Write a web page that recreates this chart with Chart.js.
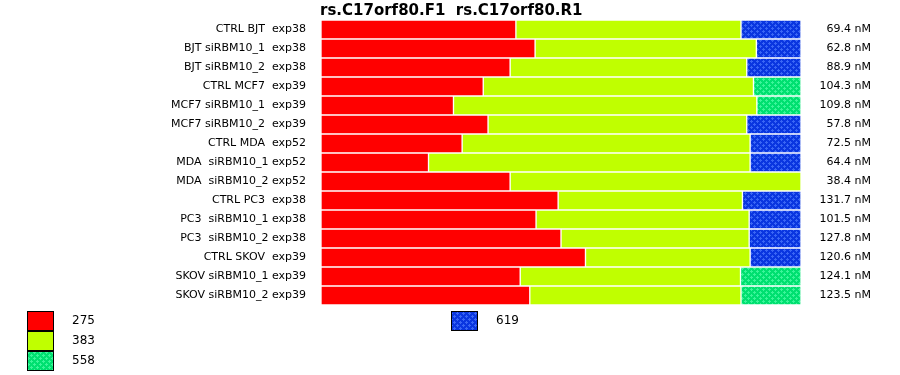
<!DOCTYPE html>
<html>
<head>
<meta charset="utf-8">
<script src="https://cdn.jsdelivr.net/npm/chart.js@4/dist/chart.umd.min.js"></script>
<style>
  body { margin: 0; background: #fff; }
</style>
</head>
<body>
<canvas id="myChart" width="900" height="375"></canvas>
<script>
const samples = [
    'CTRL BJT  exp38', 'BJT siRBM10_1  exp38', 'BJT siRBM10_2  exp38',
    'CTRL MCF7  exp39', 'MCF7 siRBM10_1  exp39', 'MCF7 siRBM10_2  exp39',
    'CTRL MDA  exp52', 'MDA  siRBM10_1 exp52', 'MDA  siRBM10_2 exp52',
    'CTRL PC3  exp38', 'PC3  siRBM10_1 exp38', 'PC3  siRBM10_2 exp38',
    'CTRL SKOV  exp39', 'SKOV siRBM10_1 exp39', 'SKOV siRBM10_2 exp39'
];
const concentrations = [
    '69.4 nM', '62.8 nM', '88.9 nM', '104.3 nM', '109.8 nM', '57.8 nM',
    '72.5 nM', '64.4 nM', '38.4 nM', '131.7 nM', '101.5 nM', '127.8 nM',
    '120.6 nM', '124.1 nM', '123.5 nM'
];
const peak275 = [40.6, 44.6, 39.4, 33.8, 27.6, 34.8, 29.4, 22.4, 39.4, 49.4, 44.8, 50.0, 55.1, 41.5, 43.5];
const peak383 = [46.9, 46.1, 49.3, 56.3, 63.2, 53.9, 60.0, 67.0, 60.6, 38.4, 44.4, 39.2, 34.3, 45.9, 44.0];
const peak558 = [0, 0, 0, 9.9, 9.2, 0, 0, 0, 0, 0, 0, 0, 0, 12.6, 12.5];
const peak619 = [12.5, 9.3, 11.3, 0, 0, 11.3, 10.6, 10.6, 0, 12.2, 10.8, 10.8, 10.6, 0, 0];
const titleText = 'rs.C17orf80.F1  rs.C17orf80.R1';

function dotPattern(base, dot) {
    let c = document.createElement('canvas');
    c.width = 6;
    c.height = 6;
    let g = c.getContext('2d');
    g.fillStyle = base;
    g.fillRect(0, 0, 6, 6);
    g.fillStyle = dot;
    // little plus-shaped dots, offset every other row
    [[1, 1], [4, 4]].forEach(([x, y]) => {
        g.fillRect(x, y - 1, 1, 3);
        g.fillRect(x - 1, y, 3, 1);
    });
    return g.createPattern(c, 'repeat');
}

const ctx = document.getElementById('myChart').getContext('2d');
const greenFill = dotPattern('#00e070', '#3cf59a');
const blueFill = dotPattern('#0a36e0', '#3a66f5');

const extras = {
    id: 'extras',
    afterDraw(chart) {
        let c = chart.ctx;
        let area = chart.chartArea;
        c.save();
        c.fillStyle = '#000';
        c.font = 'bold 15px "DejaVu Sans"';
        c.textBaseline = 'alphabetic';
        c.textAlign = 'left';
        c.fillText(titleText, area.left - 1, 15);

        // legend: three stacked in the first column, the rest in a second column
        let spots = [[27, 311], [27, 331], [27, 351], [451, 311]];
        c.font = '12px "DejaVu Sans"';
        c.textBaseline = 'middle';
        chart.data.datasets.forEach((ds, i) => {
            let [x, y] = spots[i];
            c.fillStyle = ds.backgroundColor;
            c.fillRect(x, y, 26, 19);
            c.strokeStyle = '#000';
            c.lineWidth = 1;
            c.strokeRect(x + 0.5, y + 0.5, 26, 19);
            c.fillStyle = '#000';
            c.fillText(ds.label, x + 45, y + 10);
        });
        c.restore();
    }
};

new Chart(ctx, {
    type: 'bar',
    data: {
        labels: samples,
        datasets: [
            { label: '275', data: peak275, backgroundColor: '#ff0000' },
            { label: '383', data: peak383, backgroundColor: '#c0ff00' },
            { label: '558', data: peak558, backgroundColor: greenFill },
            { label: '619', data: peak619, backgroundColor: blueFill }
        ].map((d) => Object.assign(d, {
            borderColor: '#ffffff',
            borderWidth: 1,
            borderSkipped: false,
            barPercentage: 1,
            categoryPercentage: 1
        }))
    },
    options: {
        indexAxis: 'y',
        responsive: false,
        animation: false,
        layout: { padding: { top: 20, bottom: 70, left: 0, right: 29 } },
        scales: {
            x: { stacked: true, min: 0, max: 100, display: false },
            y: {
                stacked: true,
                grid: { display: false },
                border: { display: false },
                ticks: { color: '#000', font: { family: 'DejaVu Sans', size: 11 }, padding: 7, autoSkip: false },
                afterFit(axis) { axis.width = 321; }
            },
            y2: {
                type: 'category',
                position: 'right',
                labels: concentrations,
                offset: true,
                grid: { display: false },
                border: { display: false },
                ticks: { color: '#000', font: { family: 'DejaVu Sans', size: 11 }, crossAlign: 'far', autoSkip: false },
                afterFit(axis) { axis.width = 70; }
            }
        },
        plugins: {
            legend: { display: false },
            tooltip: { enabled: false }
        }
    },
    plugins: [extras]
});
</script>
</body>
</html>
